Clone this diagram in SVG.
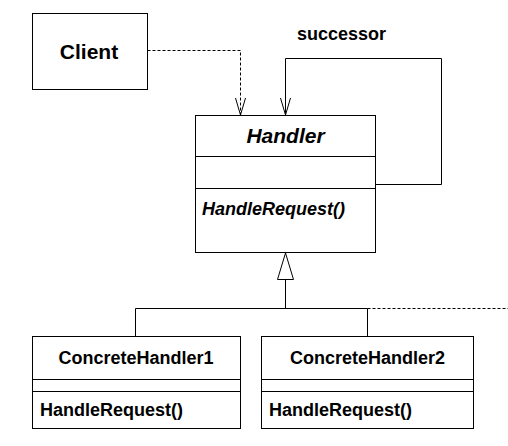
<svg xmlns="http://www.w3.org/2000/svg" width="508" height="446" viewBox="0 0 508 446">
  <style>
    .box { fill: #fff; stroke: #000; stroke-width: 1; }
    .div { stroke: #000; stroke-width: 1; fill: none; }
    .line { stroke: #000; stroke-width: 1; fill: none; }
    .dash { stroke-dasharray: 3 2; }
    text { font-family: "Liberation Sans", Arial, sans-serif; font-weight: bold; fill: #000; }
    .title { font-size: 18px; text-anchor: middle; }
    .op { font-size: 18px; }
    .abstract { font-style: italic; }
  </style>
  <rect width="508" height="446" fill="#fff"/>

  <g id="connectors">
    <!-- Client depends on Handler -->
    <path class="line dash" d="M147.5 50.5 H240.5 V115"/>
    <path class="line" d="M235.5 98 L240.5 115 L245.5 98"/>
    <!-- successor self-association -->
    <path class="line" d="M375.5 184.5 H441.5 V58.5 H285.5 V115"/>
    <path class="line" d="M280.5 98 L285.5 115 L290.5 98"/>
    <text x="297" y="40" class="op">successor</text>
    <!-- generalization -->
    <polygon class="box" points="285.5,253 277.5,279.5 293.5,279.5"/>
    <path class="line" d="M285.5 279.5 V308.5 M135.5 308.5 H367.5 M135.5 308.5 V336 M367.5 308.5 V336"/>
    <path class="line dash" d="M367.5 308.5 H508"/>
  </g>

  <g id="client">
    <rect class="box" x="32.5" y="13.5" width="115" height="76"/>
    <text x="89" y="59" font-size="21" text-anchor="middle">Client</text>
  </g>

  <g id="handler">
    <rect class="box" x="195.5" y="115.5" width="180" height="137"/>
    <path class="div" d="M195.5 156.5 H375.5 M195.5 188.5 H375.5"/>
    <text x="285.5" y="143" font-size="21" text-anchor="middle" class="abstract">Handler</text>
    <text x="202" y="215" class="op abstract">HandleRequest()</text>
  </g>

  <g id="concrete-handler-1">
    <rect class="box" x="32.5" y="336.5" width="208" height="92"/>
    <path class="div" d="M32.5 379.5 H240.5 M32.5 391.5 H240.5"/>
    <text x="136" y="364" class="title">ConcreteHandler1</text>
    <text x="40" y="416" class="op">HandleRequest()</text>
  </g>

  <g id="concrete-handler-2">
    <rect class="box" x="261.5" y="336.5" width="212" height="92"/>
    <path class="div" d="M261.5 379.5 H473.5 M261.5 391.5 H473.5"/>
    <text x="367.5" y="364" class="title">ConcreteHandler2</text>
    <text x="269" y="416" class="op">HandleRequest()</text>
  </g>
</svg>
